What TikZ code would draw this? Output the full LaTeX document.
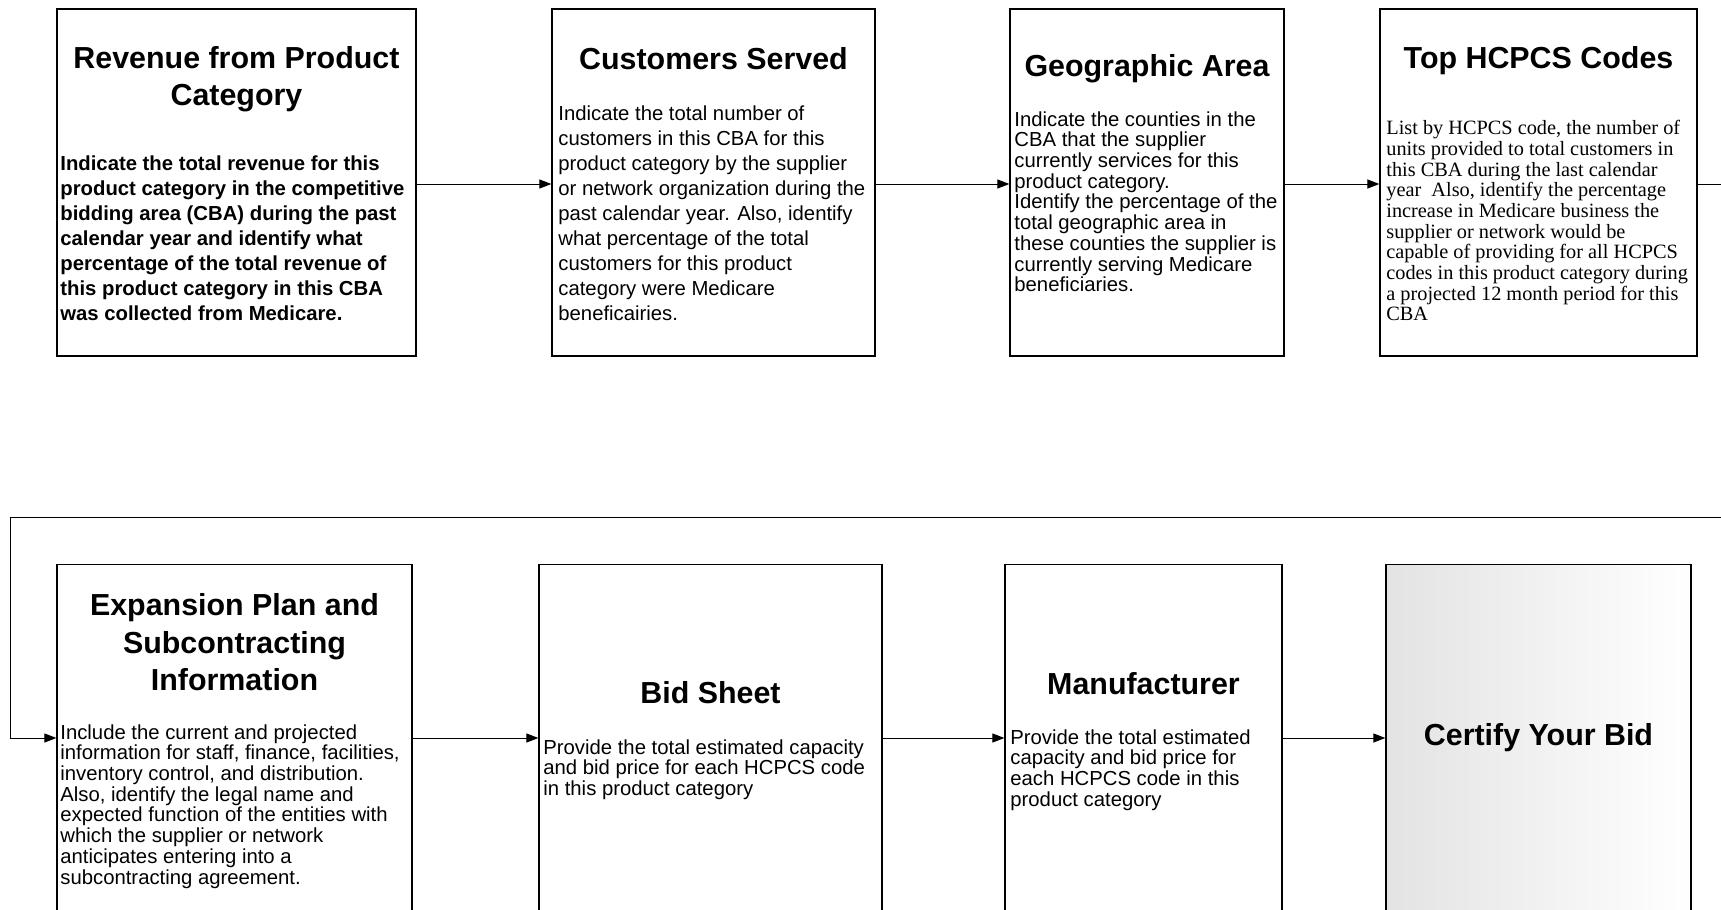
\documentclass[tikz,border=0pt]{standalone}
\usepackage{fontspec}
\setmainfont{Liberation Sans}
\newfontfamily\timesfont{Liberation Serif}
\usetikzlibrary{arrows.meta}
\newcommand{\hd}{\fontsize{15.2pt}{18.7pt}\selectfont\bfseries}
\newcommand{\bdy}{\fontsize{10.15pt}{12.5pt}\selectfont}
\newcommand{\bdt}{\fontsize{10.15pt}{10.35pt}\selectfont}

\begin{document}
\begin{tikzpicture}[x=0.5pt,y=-0.5pt,
   box/.style={draw,line width=0.6pt,minimum height=173.5pt,inner sep=0pt},
   hdr/.style={font=\hd,align=center},
   txt/.style={anchor=north west,inner sep=0pt,align=left},
   link/.style={line width=0.5pt,-{Triangle[length=6pt,width=4.5pt]}}]
  \useasboundingbox (0,0) rectangle (1721,910);
  % top row
  \node[box,minimum width=179.5pt] (b1) at (236.5,182.5) {};
  \node[box,minimum width=161.5pt] (b2) at (713.5,182.5) {};
  \node[box,minimum width=137pt]   (b3) at (1147,182.5) {};
  \node[box,minimum width=158.5pt] (b4) at (1538.5,182.5) {};
  % bottom row
  \node[box,minimum width=177.5pt] (b5) at (234.5,738) {};
  \node[box,minimum width=171.5pt] (b6) at (710.5,738) {};
  \node[box,minimum width=138.5pt] (b7) at (1143.5,738) {};
  \node[box,minimum width=152.5pt,left color=gray!22,right color=white] (b8) at (1538.5,738) {};

  \node[hdr] (h1) at (236.5,79) {Revenue from Product\\Category};
  \node[hdr] (h2) at (713.5,59) {Customers Served};
  \node[hdr] (h3) at (1147,69) {Geographic Area};
  \node[hdr] (h4) at (1538.5,61) {Top HCPCS Codes};
  \node[hdr] (h5) at (234.5,642.5) {Expansion Plan and\\Subcontracting\\Information};
  \node[hdr] (h6) at (710.5,693) {Bid Sheet};
  \node[hdr] (h7) at (1143.5,684) {Manufacturer};
  \node[hdr] (h8) at (1538.5,738) {Certify Your Bid};

  \node[txt,font=\bdy\bfseries] (t1) at (60,155) {Indicate the total revenue for this\\
    product category in the competitive\\bidding area (CBA) during the past\\
    calendar year and identify what\\percentage of the total revenue of\\
    this product category in this CBA\\was collected from Medicare.};
  \node[txt,font=\bdy] (t2) at (558,105) {Indicate the total number of\\
    customers in this CBA for this\\product category by the supplier\\
    or network organization during the\\past calendar year. Also, identify\\
    what percentage of the total\\customers for this product\\
    category were Medicare\\beneficairies.};
  \node[txt,font=\bdt] (t3) at (1014,111) {Indicate the counties in the\\
    CBA that the supplier\\currently services for this\\product category.\\
    Identify the percentage of the\\total geographic area in\\
    these counties the supplier is\\currently serving Medicare\\beneficiaries.};
  \node[txt,font=\bdt\timesfont] (t4) at (1386,120) {List by HCPCS code, the number of\\
    units provided to total customers in\\this CBA during the last calendar\\
    year~~Also, identify the percentage\\increase in Medicare business the\\
    supplier or network would be\\capable of providing for all HCPCS\\
    codes in this product category during\\a projected 12 month period for this\\CBA};
  \node[txt,font=\bdt] (t5) at (60,724) {Include the current and projected\\
    information for staff, finance, facilities,\\inventory control, and distribution.\\
    Also, identify the legal name and\\expected function of the entities with\\
    which the supplier or network\\anticipates entering into a\\subcontracting agreement.};
  \node[txt,font=\bdt] (t6) at (543,739) {Provide the total estimated capacity\\
    and bid price for each HCPCS code\\in this product category};
  \node[txt,font=\bdt] (t7) at (1010,729) {Provide the total estimated\\
    capacity and bid price for\\each HCPCS code in this\\product category};

  % connectors
  \coordinate (edge) at (1745,184);
  \coordinate (turn) at (10,517);
  \draw[link] (b1.east) ++(0,1.5) -- ([yshift=-0.75pt]b2.west);
  \draw[link] (b2.east) ++(0,1.5) -- ([yshift=-0.75pt]b3.west);
  \draw[link] (b3.east) ++(0,1.5) -- ([yshift=-0.75pt]b4.west);
  \draw[link] ([yshift=-0.75pt]b4.east) -- (edge) |- (turn) |- (b5.west);
  \draw[link] (b5) -- (b6);
  \draw[link] (b6) -- (b7);
  \draw[link] (b7) -- (b8);
\end{tikzpicture}
\end{document}
